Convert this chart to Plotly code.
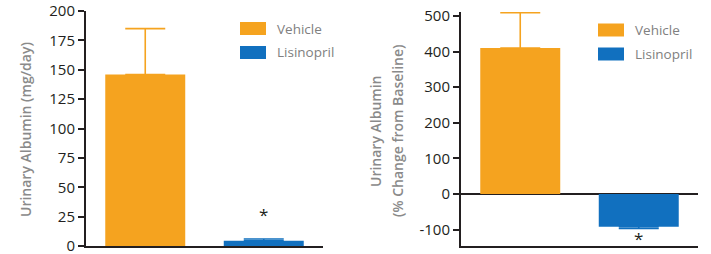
import plotly.graph_objects as go

# ---------------- data ----------------
groups = ["Vehicle", "Lisinopril"]
colors = ["#F5A31F", "#1170BF"]

# Left panel: Urinary albumin (mg/day)
albumin_mg = [146, 4.5]
albumin_err_up = [39, 1.5]
albumin_err_down = [0, 0]
left_ticks = [0, 25, 50, 75, 100, 125, 150, 175, 200]
left_ticklabels = ["0", "25", "50", "75", "100", "125", "150", "175", "200"]

# Right panel: % change from baseline
pct_change = [410, -92]
pct_err_up = [99, 0]
pct_err_down = [0, 5]
right_ticks = [-100, 0, 100, 200, 300, 400, 500]
right_ticklabels = ["-100", "0", "100", "200", "300", "400", "500"]

sig_marker = "*"
left_title = "Urinary Albumin (mg/day)"
right_title_lines = ["Urinary Albumin", "(% Change from Baseline)"]

# ---------------- figure ----------------
W, H = 711, 254
FONT = "Open Sans"
DARK = "#231f20"
GRAY = "#8a8a8a"

def px_x(p):
    return p / W

def px_y(p):  # pixel from top -> paper from bottom
    return (H - p) / H

fig = go.Figure()
xpos = [0, 1]
for i, g in enumerate(groups):
    fig.add_trace(go.Bar(
        x=[xpos[i]], y=[albumin_mg[i]], width=0.675,
        marker=dict(color=colors[i], line=dict(width=0)),
        error_y=dict(type="data", symmetric=False,
                     array=[albumin_err_up[i]], arrayminus=[albumin_err_down[i]],
                     color=colors[i], thickness=1.6, width=20),
        name=g, showlegend=False, xaxis="x", yaxis="y"))
    fig.add_trace(go.Bar(
        x=[xpos[i]], y=[pct_change[i]], width=0.675,
        marker=dict(color=colors[i], line=dict(width=0)),
        error_y=dict(type="data", symmetric=False,
                     array=[pct_err_up[i]], arrayminus=[pct_err_down[i]],
                     color=colors[i], thickness=1.6, width=20),
        name=g, showlegend=False, xaxis="x2", yaxis="y2"))

axis_common = dict(showgrid=False, linecolor=DARK, linewidth=2,
                   tickfont=dict(family=FONT, size=15, color=DARK),
                   ticks="outside", ticklen=6, tickwidth=1.5, tickcolor=DARK,
                   ticklabeloverflow="allow", automargin=False)

fig.update_layout(
    width=W, height=H, autosize=False,
    margin=dict(l=0, r=0, t=0, b=0, autoexpand=False),
    paper_bgcolor="white", plot_bgcolor="white",
    barmode="overlay",
    xaxis=dict(domain=[px_x(86), px_x(323)], range=[-0.5, 1.5],
               showline=True, linecolor=DARK, linewidth=2,
               showticklabels=False, ticks="", showgrid=False,
               zeroline=False, anchor="y", automargin=False),
    yaxis=dict(domain=[px_y(246), px_y(11)], range=[0, 200],
               tickvals=left_ticks, ticktext=left_ticklabels,
               showline=True, zeroline=False, anchor="x", **axis_common),
    xaxis2=dict(domain=[px_x(461), px_x(698)], range=[-0.5, 1.5],
                showline=True, linecolor=DARK, linewidth=2,
                showticklabels=False, ticks="", showgrid=False,
                zeroline=False, anchor="y2", automargin=False),
    yaxis2=dict(domain=[px_y(246), px_y(12)], range=[-146, 511],
                tickvals=right_ticks, ticktext=right_ticklabels,
                showline=True, zeroline=True, zerolinecolor=DARK,
                zerolinewidth=1.6, anchor="x2", **axis_common),
)

# significance markers
fig.add_annotation(x=1, y=28, xref="x", yref="y", text=sig_marker,
                   showarrow=False, font=dict(family=FONT, size=17, color=DARK),
                   yanchor="middle", yshift=-1)
fig.add_annotation(x=1, y=-121, xref="x2", yref="y2", text=sig_marker,
                   showarrow=False, font=dict(family=FONT, size=17, color=DARK),
                   yanchor="middle", yshift=-1)

# axis titles
fig.add_annotation(x=px_x(25), y=px_y(130), xref="paper", yref="paper",
                   text=left_title, textangle=-90, showarrow=False,
                   font=dict(family=FONT, size=14, color=GRAY, weight=600),
                   xanchor="center", yanchor="middle")
fig.add_annotation(x=px_x(375), y=px_y(132), xref="paper", yref="paper",
                   text=right_title_lines[0], textangle=-90, showarrow=False,
                   font=dict(family=FONT, size=14, color=GRAY, weight=600),
                   xanchor="center", yanchor="middle")
fig.add_annotation(x=px_x(397), y=px_y(131), xref="paper", yref="paper",
                   text=right_title_lines[1], textangle=-90, showarrow=False,
                   font=dict(family=FONT, size=14, color=GRAY, weight=600),
                   xanchor="center", yanchor="middle")

# legends (drawn as swatches + text)
legend_sets = [
    (240, 275, [28.5, 52.5]),
    (598, 633, [30, 54]),
]
for sx, tx, ys in legend_sets:
    for i, g in enumerate(groups):
        yc = ys[i]
        fig.add_shape(type="rect", xref="paper", yref="paper",
                      x0=px_x(sx), x1=px_x(sx + 26),
                      y0=px_y(yc + 6.5), y1=px_y(yc - 6.5),
                      fillcolor=colors[i], line=dict(width=0))
        fig.add_annotation(x=px_x(tx), y=px_y(yc), xref="paper", yref="paper",
                           text=g, showarrow=False, xanchor="left", yanchor="middle",
                           font=dict(family=FONT, size=13.5, color="#808080"))

fig.write_html("out.html", config={"displayModeBar": False},
               post_script="document.body.style.margin='0px';document.body.style.overflow='hidden';")
